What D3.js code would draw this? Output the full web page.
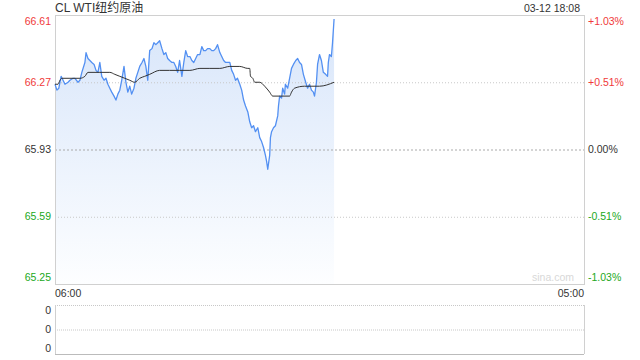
<!DOCTYPE html>
<html>
<head>
<meta charset="utf-8">
<script src="https://cdn.jsdelivr.net/npm/d3@7"></script>
<style>
  body { margin: 0; background: #fff; }
  svg { display: block; font-family: Arial, "Liberation Sans", "Noto Sans CJK SC", sans-serif; }
</style>
</head>
<body>
<svg id="chart" width="640" height="360"></svg>
<script>
// minutes after 06:00 and last price
var minutes = [0,5,10,16,21,26,34,39,47,52,60,65,70,78,81,86,91,96,102,107,112,117,122,128,133,138,143,148,154,159,
  164,169,174,180,185,190,195,200,206,211,216,221,227,232,237,242,247,253,258,263,268,273,279,284,289,294,299,305,310,315,
  320,325,331,336,341,346,352,357,362,367,372,378,383,388,393,398,404,409,414,419,424,430,435,440,445,450,456,461,466,471,
  476,482,487,492,497,503,508,513,518,523,529,534,539,544,549,552,555,560,562,565,570,575,581,583,586,591,594,599,601,607,
  612,617,622,628,633,638,643,648,654,659,664,669,674,677,682,685,690,695,700,706,711,713,716,721,724,728];
var prices = [66.26,66.23,66.24,66.30,66.28,66.26,66.27,66.28,66.29,66.29,66.27,66.28,66.32,66.37,66.42,66.39,66.38,66.37,66.36,66.33,
  66.32,66.37,66.30,66.28,66.29,66.26,66.24,66.22,66.20,66.18,66.21,66.23,66.28,66.35,66.27,66.22,66.25,66.21,66.24,66.29,
  66.32,66.35,66.37,66.39,66.35,66.28,66.43,66.44,66.47,66.46,66.47,66.48,66.44,66.41,66.42,66.39,66.38,66.37,66.37,66.35,
  66.32,66.38,66.30,66.37,66.43,66.40,66.40,66.38,66.37,66.39,66.41,66.41,66.45,66.43,66.43,66.44,66.44,66.43,66.43,66.44,
  66.46,66.42,66.40,66.38,66.37,66.37,66.37,66.33,66.31,66.28,66.29,66.26,66.23,66.18,66.15,66.12,66.07,66.04,66.05,66.02,
  66.04,65.99,65.97,65.94,65.90,65.87,65.83,65.90,65.99,66.02,66.04,66.05,66.10,66.15,66.20,66.19,66.24,66.21,66.26,66.24,
  66.29,66.34,66.36,66.38,66.39,66.37,66.36,66.31,66.27,66.24,66.26,66.23,66.22,66.20,66.27,66.36,66.41,66.38,66.32,66.31,
  66.30,66.37,66.41,66.40,66.47,66.59];

// running average price
var avgMinutes = [0,8,13,18,39,65,78,86,117,143,156,169,182,195,208,221,234,247,273,299,325,352,378,404,430,456,482,503,508,510,
  516,521,534,547,560,568,586,612,617,625,651,690,728];
var avgPrices = [66.26,66.26,66.28,66.29,66.29,66.29,66.30,66.32,66.32,66.32,66.31,66.30,66.29,66.28,66.27,66.29,66.30,66.31,66.33,66.33,
  66.33,66.33,66.34,66.34,66.34,66.35,66.35,66.34,66.34,66.30,66.29,66.27,66.27,66.25,66.22,66.20,66.20,66.20,66.22,66.24,
  66.25,66.25,66.27];

var priceTicks = [66.61, 66.27, 65.93, 65.59, 65.25];
var pctTicks = ["+1.03%", "+0.51%", "0.00%", "-0.51%", "-1.03%"];
var timeTicks = [0, 1380];
var timeLabels = ["06:00", "05:00"];
var volTicks = [0, 0, 0];
var prevClose = 65.93;

var svg = d3.select("#chart");
var plotLeft = 55, plotRight = 584, plotTop = 15, plotBottom = 284;
var volTop = 305, volBottom = 354;

var x = d3.scaleLinear().domain([0, 1380]).range([plotLeft, plotRight]);
var y = d3.scaleLinear().domain([65.25, 66.61]).range([plotBottom, plotTop]);
var yVol = d3.scalePoint().domain([0, 1, 2]).range([volTop, volBottom]);

var red = "#f03a3a", green = "#22a822", grey = "#333";

function tickColor(v) {
  if (Math.abs(v - prevClose) < 1e-6) return grey;
  return v > prevClose ? red : green;
}

// gradient for area
var defs = svg.append("defs");
var grad = defs.append("linearGradient").attr("id", "fillGrad")
  .attr("gradientUnits", "userSpaceOnUse")
  .attr("x1", 0).attr("x2", 0).attr("y1", plotTop).attr("y2", plotBottom);
grad.append("stop").attr("offset", "0%").attr("stop-color", "#d7e5fa");
grad.append("stop").attr("offset", "100%").attr("stop-color", "#fdfeff");

// area
var pts = minutes.map(function(m, i) { return [m, prices[i]]; });
svg.append("path")
  .datum(pts)
  .attr("fill", "url(#fillGrad)")
  .attr("d", d3.area()
    .x(function(d) { return x(d[0]); })
    .y0(plotBottom)
    .y1(function(d) { return y(d[1]); }));

// grid lines
svg.selectAll(".grid")
  .data(priceTicks.slice(1, 4))
  .enter().append("line")
  .attr("x1", plotLeft).attr("x2", plotRight)
  .attr("y1", function(d) { return y(d) + 0.5; })
  .attr("y2", function(d) { return y(d) + 0.5; })
  .attr("stroke", function(d) { return d === prevClose ? "#aaa" : "#c8c8c8"; })
  .attr("stroke-dasharray", function(d) { return d === prevClose ? "2,2" : "1,2"; });

// frame
svg.append("rect")
  .attr("x", plotLeft + 0.5).attr("y", plotTop + 0.5)
  .attr("width", plotRight - plotLeft).attr("height", plotBottom - plotTop)
  .attr("fill", "none").attr("stroke", "#d0d0d0");

// price line
svg.append("path")
  .datum(pts)
  .attr("fill", "none")
  .attr("stroke", "#5390f2")
  .attr("stroke-width", 1.3)
  .attr("stroke-linejoin", "round")
  .attr("d", d3.line()
    .x(function(d) { return x(d[0]); })
    .y(function(d) { return y(d[1]); }));

// average line
svg.append("path")
  .datum(avgMinutes.map(function(m, i) { return [m, avgPrices[i]]; }))
  .attr("fill", "none")
  .attr("stroke", "#333")
  .attr("stroke-width", 1)
  .attr("d", d3.line()
    .curve(d3.curveMonotoneX)
    .x(function(d) { return x(d[0]); })
    .y(function(d) { return y(d[1]); }));

// left price labels
function labelY(v) { return Math.min(Math.max(y(v), plotTop + 6), plotBottom - 7); }
svg.selectAll(".pl")
  .data(priceTicks)
  .enter().append("text")
  .attr("x", plotLeft - 4)
  .attr("y", function(d) { return labelY(d); })
  .attr("dy", "0.35em")
  .attr("text-anchor", "end")
  .attr("font-size", 10.5)
  .attr("fill", tickColor)
  .text(function(d) { return d.toFixed(2); });

// right percent labels
svg.selectAll(".pr")
  .data(priceTicks)
  .enter().append("text")
  .attr("x", plotRight + 4)
  .attr("y", function(d) { return labelY(d); })
  .attr("dy", "0.35em")
  .attr("font-size", 10.5)
  .attr("fill", tickColor)
  .text(function(d, i) { return pctTicks[i]; });

// title + time
svg.append("text").attr("x", plotLeft).attr("y", 12)
  .attr("font-size", 12).attr("fill", "#333").text("CL WTI纽约原油");
svg.append("text").attr("x", plotRight - 4).attr("y", 12)
  .attr("text-anchor", "end").attr("font-size", 10.5).attr("fill", "#333").text("03-12 18:08");

// watermark
svg.append("text").attr("x", plotRight - 10).attr("y", plotBottom - 3)
  .attr("text-anchor", "end").attr("font-size", 10.5).attr("fill", "#d8d8d8").text("sina.com");

// time axis labels
svg.selectAll(".tl")
  .data(timeTicks)
  .enter().append("text")
  .attr("x", function(d) { return x(d); })
  .attr("y", 297)
  .attr("text-anchor", function(d, i) { return i === 0 ? "start" : "end"; })
  .attr("font-size", 10.5)
  .attr("fill", "#333")
  .text(function(d, i) { return timeLabels[i]; });

// volume panel
svg.selectAll(".vg")
  .data(volTicks)
  .enter().append("line")
  .attr("x1", plotLeft).attr("x2", plotRight)
  .attr("y1", function(d, i) { return yVol(i) + 0.5; })
  .attr("y2", function(d, i) { return yVol(i) + 0.5; })
  .attr("stroke", function(d, i) { return i === 2 ? "#bbb" : "#c8c8c8"; })
  .attr("stroke-dasharray", function(d, i) { return i === 2 ? null : "1,1"; });
[plotLeft, plotRight].forEach(function(px) {
  svg.append("line").attr("x1", px + 0.5).attr("x2", px + 0.5)
    .attr("y1", volTop).attr("y2", volBottom).attr("stroke", "#d0d0d0");
});
svg.selectAll(".vl")
  .data(volTicks)
  .enter().append("text")
  .attr("x", plotLeft - 4)
  .attr("y", function(d, i) { return Math.min(Math.max(yVol(i), volTop + 5), volBottom - 6); })
  .attr("dy", "0.35em")
  .attr("text-anchor", "end")
  .attr("font-size", 10.5)
  .attr("fill", "#333")
  .text(function(d) { return d; });
</script>
</body>
</html>
